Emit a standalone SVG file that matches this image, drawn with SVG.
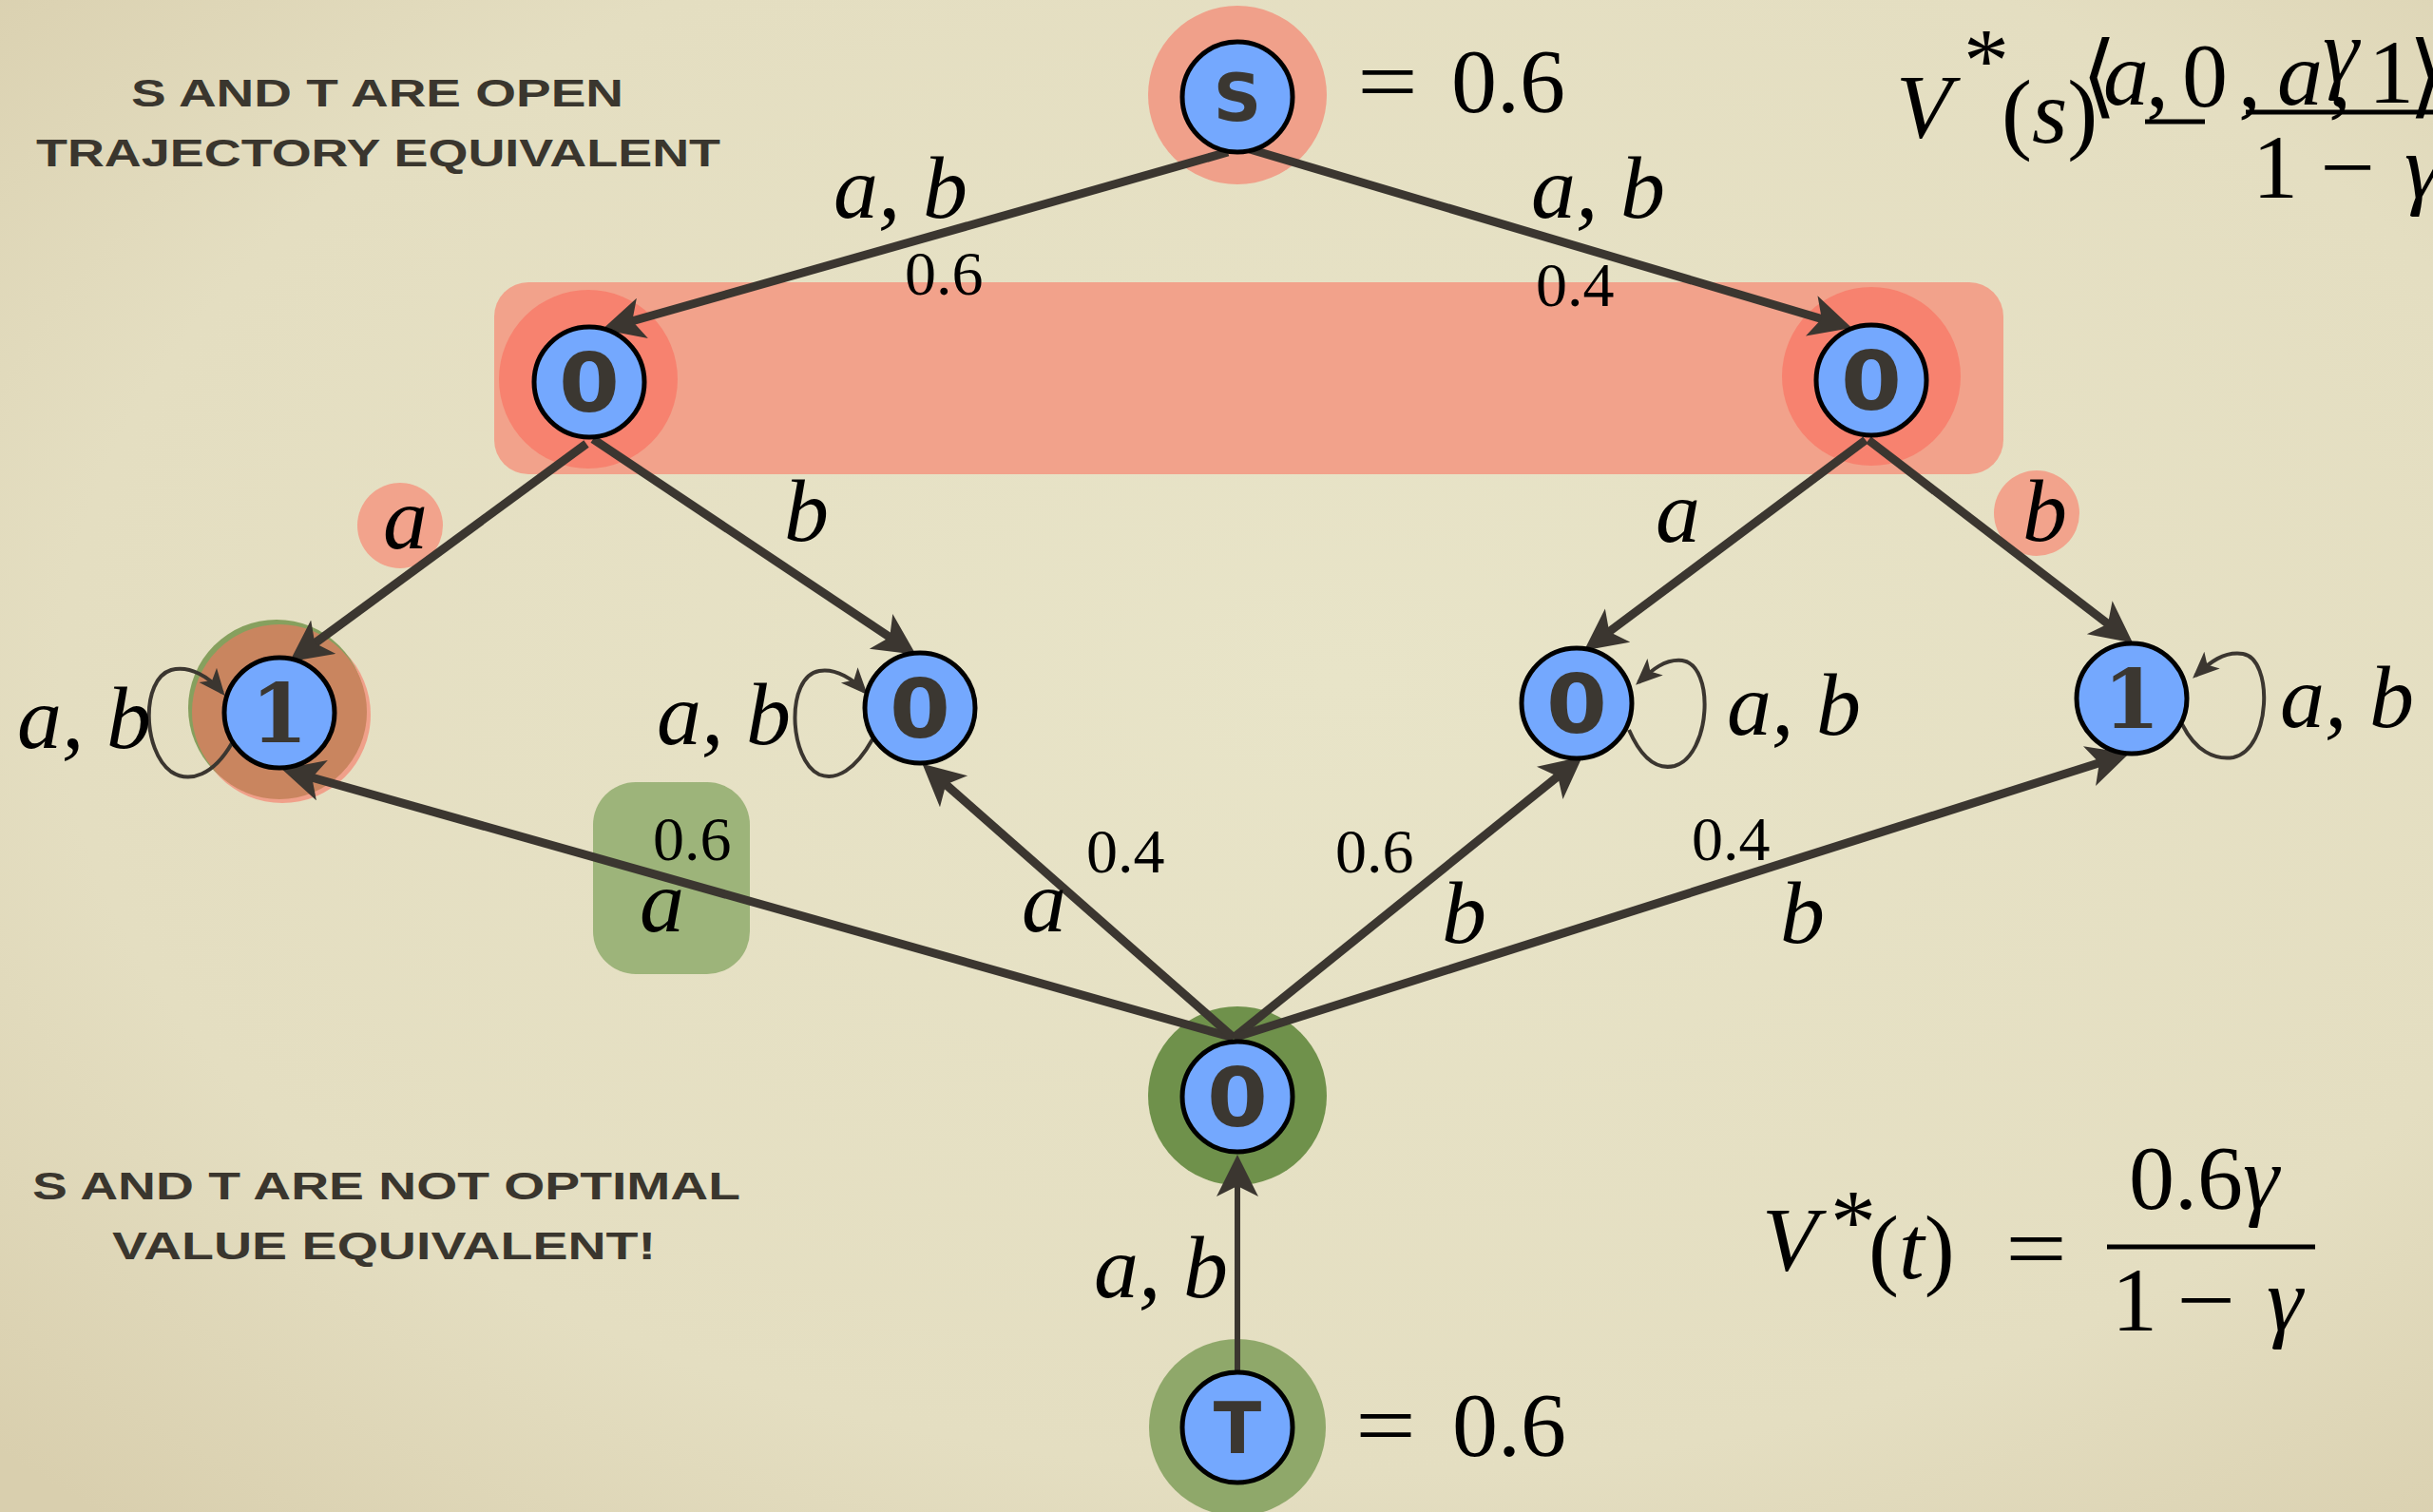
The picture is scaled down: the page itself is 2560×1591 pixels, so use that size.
<svg xmlns="http://www.w3.org/2000/svg" width="2560" height="1591" viewBox="0 0 2560 1591">
<defs>
<radialGradient id="bg" cx="0.55" cy="0.45" r="0.75">
<stop offset="0" stop-color="#e8e4c8"/>
<stop offset="0.7" stop-color="#e4dec1"/>
<stop offset="1" stop-color="#d9cfae"/>
</radialGradient>
<marker id="ah" markerUnits="userSpaceOnUse" markerWidth="46" markerHeight="46" refX="30" refY="22" orient="auto" viewBox="0 0 46 46">
<path d="M44,22 L0,0 L11,22 L0,44 Z" fill="#3b3630"/>
</marker>
<marker id="ahs" markerUnits="userSpaceOnUse" markerWidth="30" markerHeight="26" refX="24" refY="12" orient="auto" viewBox="0 0 30 26">
<path d="M28,12 L0,0 L7,12 L0,24 Z" fill="#3b3630"/>
</marker>
<style>
.edge{fill:none;stroke:#3b3630;stroke-width:9;marker-end:url(#ah)}
.loop{fill:none;stroke:#3b3630;stroke-width:4;marker-end:url(#ahs)}
.node{fill:#74a8fe;stroke:#000;stroke-width:5}
.lbl{font-family:"DejaVu Sans",sans-serif;font-weight:bold;fill:#3b3731;text-anchor:middle}
.math{font-family:"Liberation Serif","DejaVu Serif",serif;font-style:italic;font-size:94px;fill:#000}
.num{font-family:"Liberation Serif","DejaVu Serif",serif;font-size:66px;fill:#000}
.big{font-family:"Liberation Serif","DejaVu Serif",serif;font-size:96px;fill:#000}
.cap{font-family:"Liberation Sans",sans-serif;font-weight:bold;font-size:40px;fill:#3a362e}
</style>
</defs>
<rect width="2560" height="1591" fill="url(#bg)"/>

<g id="highlights">
<rect x="520" y="297" width="1588" height="202" rx="36" fill="#f2a28b"/>
<rect x="624" y="823" width="165" height="202" rx="45" fill="#9db47a"/>
<circle cx="421" cy="553" r="45" fill="#f2a38c"/>
<circle cx="2143" cy="540" r="45" fill="#f2a38c"/>
<circle cx="1302" cy="100" r="94" fill="#f0a08a"/>
<circle cx="619" cy="399" r="94" fill="#f7826f"/>
<circle cx="1969" cy="396" r="94" fill="#f7826f"/>
<circle cx="297" cy="752" r="93" fill="#f0a08a"/>
<circle cx="291" cy="745" r="93" fill="#86a05e"/>
<circle cx="294" cy="749" r="92" fill="#c9855f"/>
<circle cx="1302" cy="1153" r="94" fill="#6f914b"/>
<circle cx="1302" cy="1502" r="93" fill="#8fa86a"/>
</g>

<g id="connectors">
<path class="edge" d="M1292,160 L647,343"/>
<path class="edge" d="M1315,157 L1935,341"/>
<path class="edge" d="M617,467 L316,688"/>
<path class="edge" d="M624,462 L952,681"/>
<path class="edge" d="M1963,463 L1678,676"/>
<path class="edge" d="M1966,463 L2233,668"/>
<path class="edge" d="M1298,1092 L310,813"/>
<path class="edge" d="M1298,1092 L981,813"/>
<path class="edge" d="M1298,1092 L1654,805"/>
<path class="edge" d="M1298,1092 L2227,797"/>
<path class="edge" style="stroke-width:6" d="M1302,1443 L1302,1229"/>
<path class="loop" d="M244,782 C225,815 200,825 180,812 C150,790 148,715 180,705 C200,700 220,712 234,729"/>
<path class="loop" d="M918,778 C900,810 880,822 862,815 C830,800 826,712 862,706 C880,703 898,715 910,728"/>
<path class="loop" d="M1714,768 C1728,800 1745,810 1762,806 C1800,795 1805,700 1770,695 C1752,693 1738,705 1724,718"/>
<path class="loop" d="M2296,762 C2310,790 2330,800 2350,797 C2390,788 2392,693 2360,688 C2340,685 2325,697 2310,711"/>
</g>

<g id="node-s">
<circle class="node" cx="1302" cy="102" r="58"/>
<text class="lbl" x="1302" y="127" font-size="70">S</text>
</g>
<g id="node-o-left">
<circle class="node" cx="620" cy="402" r="58"/>
<text class="lbl" x="620" y="433" font-size="86" textLength="64" lengthAdjust="spacingAndGlyphs">0</text>
</g>
<g id="node-o-right">
<circle class="node" cx="1969" cy="400" r="58"/>
<text class="lbl" x="1969" y="431" font-size="86" textLength="64" lengthAdjust="spacingAndGlyphs">0</text>
</g>
<g id="node-1-left">
<circle class="node" cx="294" cy="750" r="58"/>
<text class="lbl" x="294" y="781" font-size="86" style="font-family:'DejaVu Serif',serif">1</text>
</g>
<g id="node-o-2">
<circle class="node" cx="968" cy="745" r="58"/>
<text class="lbl" x="968" y="776" font-size="86" textLength="64" lengthAdjust="spacingAndGlyphs">0</text>
</g>
<g id="node-o-3">
<circle class="node" cx="1659" cy="740" r="58"/>
<text class="lbl" x="1659" y="771" font-size="86" textLength="64" lengthAdjust="spacingAndGlyphs">0</text>
</g>
<g id="node-1-right">
<circle class="node" cx="2243" cy="735" r="58"/>
<text class="lbl" x="2243" y="766" font-size="86" style="font-family:'DejaVu Serif',serif">1</text>
</g>
<g id="node-o-bottom">
<circle class="node" cx="1302" cy="1154" r="58"/>
<text class="lbl" x="1302" y="1185" font-size="86" textLength="64" lengthAdjust="spacingAndGlyphs">0</text>
</g>
<g id="node-t">
<circle class="node" cx="1302" cy="1502" r="58"/>
<text class="lbl" x="1302" y="1529" font-size="74">T</text>
</g>

<g id="labels">
<text class="math" x="877" y="229">a, b</text>
<text class="num" x="952" y="310">0.6</text>
<text class="math" x="1611" y="229">a, b</text>
<text class="num" x="1616" y="322">0.4</text>
<text class="math" x="403" y="577">a</text>
<text class="math" x="825" y="569">b</text>
<text class="math" x="1742" y="570">a</text>
<text class="math" x="2128" y="569">b</text>
<text class="math" x="18" y="787">a, b</text>
<text class="math" x="691" y="783">a, b</text>
<text class="math" x="1817" y="773">a, b</text>
<text class="math" x="2399" y="765">a, b</text>
<text class="num" x="687" y="905">0.6</text>
<text class="math" x="673" y="980">a</text>
<text class="num" x="1143" y="918">0.4</text>
<text class="math" x="1075" y="980">a</text>
<text class="num" x="1405" y="918">0.6</text>
<text class="math" x="1517" y="992">b</text>
<text class="num" x="1780" y="905">0.4</text>
<text class="math" x="1873" y="992">b</text>
<text class="math" x="1151" y="1365">a, b</text>

<text class="big" x="1428" y="118" textLength="64" lengthAdjust="spacingAndGlyphs">=</text>
<text class="big" x="1527" y="118">0.6</text>
<text class="big" x="1426" y="1532" textLength="64" lengthAdjust="spacingAndGlyphs">=</text>
<text class="big" x="1528" y="1532">0.6</text>
</g>

<g id="formula-t">
<text class="big" x="1854" y="1337" font-style="italic" font-size="100">V</text>
<text class="big" x="1926" y="1318" font-size="44">*</text>
<text class="big" x="1966" y="1345" font-size="100">(<tspan font-style="italic">t</tspan>)</text>
<text class="big" x="2110" y="1346" font-size="100" textLength="65" lengthAdjust="spacingAndGlyphs">=</text>
<line x1="2217" y1="1312" x2="2436" y2="1312" stroke="#000" stroke-width="5"/>
<text class="big" x="2240" y="1272" font-size="100">0.6<tspan font-style="italic">γ</tspan></text>
<text class="big" x="2222" y="1400" font-size="100">1</text>
<text class="big" x="2290" y="1400" font-size="100" textLength="62" lengthAdjust="spacingAndGlyphs">−</text>
<text class="big" x="2385" y="1400" font-size="100" font-style="italic">γ</text>
</g>

<g id="formula-s">
<text class="big" x="1995" y="145" font-style="italic" font-size="100">V</text>
<text class="big" x="2066" y="96" font-size="46">*</text>
<text class="big" x="2106" y="150" font-size="100">(<tspan font-style="italic">s</tspan>)</text>
<text class="big" x="2190" y="112" font-size="98" style="font-family:'DejaVu Serif',serif">⟨</text>
<text class="big" x="2213" y="110" font-size="90" font-style="italic">a</text>
<text class="big" x="2258" y="112" font-size="90">,</text>
<line x1="2257" y1="128" x2="2320" y2="128" stroke="#000" stroke-width="5"/>
<text class="big" x="2296" y="112" font-size="90">0</text>
<text class="big" x="2355" y="112" font-size="90">,</text>
<text class="big" x="2396" y="110" font-size="90" font-style="italic">a</text>
<text class="big" x="2450" y="112" font-size="90">,</text>
<text class="big" x="2444" y="86" font-size="84" font-style="italic">γ</text>
<text class="big" x="2492" y="108" font-size="90">1</text>
<text class="big" x="2534" y="112" font-size="98" style="font-family:'DejaVu Serif',serif">⟩</text>
<line x1="2363" y1="118" x2="2560" y2="118" stroke="#000" stroke-width="5"/>
<text class="big" x="2370" y="208" font-size="92">1</text>
<text class="big" x="2441" y="208" font-size="92" textLength="58" lengthAdjust="spacingAndGlyphs">−</text>
<text class="big" x="2530" y="208" font-size="92" font-style="italic">γ</text>
</g>

<g id="captions">
<text class="cap" x="138" y="112" textLength="518" lengthAdjust="spacingAndGlyphs">S AND T ARE OPEN</text>
<text class="cap" x="38" y="175" textLength="720" lengthAdjust="spacingAndGlyphs">TRAJECTORY EQUIVALENT</text>
<text class="cap" x="34" y="1262" textLength="745" lengthAdjust="spacingAndGlyphs">S AND T ARE NOT OPTIMAL</text>
<text class="cap" x="118" y="1325" textLength="572" lengthAdjust="spacingAndGlyphs">VALUE EQUIVALENT!</text>
</g>
</svg>
